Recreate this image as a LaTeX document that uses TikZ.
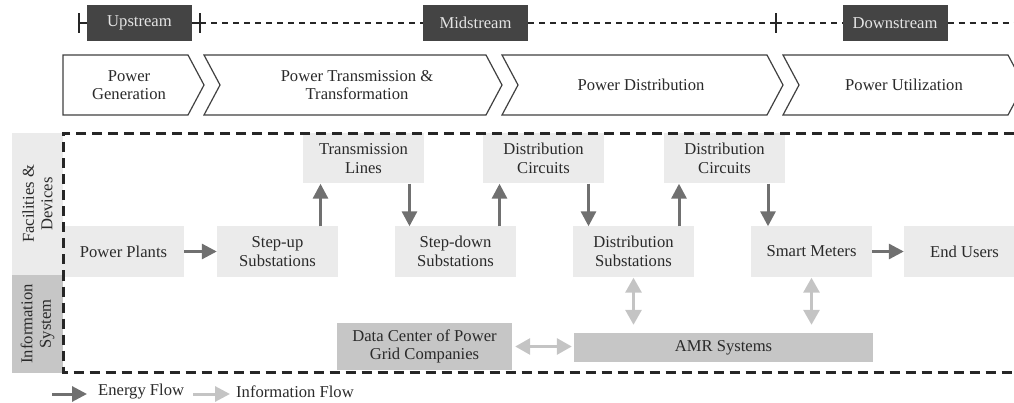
\documentclass[tikz,border=0pt]{standalone}
\usepackage{fontspec}
\setmainfont{Liberation Serif}
\usepackage{tikz}
\usetikzlibrary{calc}
\usetikzlibrary{arrows.meta}
\definecolor{stagegray}{HTML}{444444}
\definecolor{boxgray}{HTML}{EBEBEB}
\definecolor{sysgray}{HTML}{C6C6C6}
\definecolor{energygray}{HTML}{707070}
\definecolor{infogray}{HTML}{C4C4C4}
\definecolor{textgray}{HTML}{2A2A2A}
\tikzset{
  stage/.style={
    fill=stagegray,text=white!90!black,inner sep=0pt,
    minimum width=105pt,minimum height=36pt,
  },
  phase/.style={text=textgray,align=center,inner sep=0pt},
  chevron/.style={draw=black!75,fill=white,line width=1.2pt},
  facility/.style={
    fill=boxgray,text=textgray,align=center,inner sep=0pt,
    minimum width=121pt,minimum height=50pt,
  },
  infobox/.style={fill=sysgray,text=textgray,align=center,inner sep=0pt},
  layer/.style={text=textgray,align=center,inner sep=0pt,rotate=90,minimum height=51pt},
  energy/.style={draw=energygray,line width=3pt,-{Triangle[length=15pt,width=15pt]}},
  info/.style={
    draw=infogray,line width=3pt,
    {Triangle[length=15pt,width=16pt]}-{Triangle[length=15pt,width=16pt]},
  },
  infokey/.style={draw=infogray,line width=3pt,-{Triangle[length=15pt,width=15pt]}},
  frame/.style={draw=black!85,line width=3pt,dash pattern=on 10pt off 6pt},
  timeline/.style={draw=black!85,line width=1.3pt},
  tick/.style={draw=black!85,line width=2.2pt},
}

\begin{document}
\begin{tikzpicture}[x=1pt,y=-1pt,font=\fontsize{16.6}{18.5}\selectfont]
    \useasboundingbox (0,0) rectangle (1014,403);
    \clip (0,0) rectangle (1014,403);
    % value chain stages
    \node [stage] (up) at (139.5,23) {Upstream};
    \node [stage] (mid) at (475.5,23) {Midstream};
    \node [stage] (down) at (895,23) {Downstream};
    \coordinate (t1) at (79,23);
    \coordinate (t2) at (200,23);
    \coordinate (t3) at (776,23);
    \coordinate (tend) at (1014,23);
    \foreach \t in {t1,t2,t3}
        \draw [tick] ([yshift=-10pt]\t) -- ([yshift=10pt]\t);
    \draw [timeline] (t1) -- (up.west);
    \draw [timeline] (up.east) -- (t2);
    \draw [timeline,dash pattern=on 6pt off 5pt] (t2) -- (mid.west);
    \draw [timeline,dash pattern=on 6pt off 5pt] (mid.east) -- (t3);
    \draw [timeline,dash pattern=on 6pt off 5pt] (t3) -- (down.west);
    \draw [timeline,dash pattern=on 6pt off 5pt] (down.east) -- (tend);
    % phases
    \draw [chevron] (63,55) -- (188,55) -- (204,85) -- (188,115) -- (63,115) -- cycle;
    \foreach \l/\r in {204/486,502/767,783/1008}
        \draw [chevron] (\l,55) -- (\r,55) -- (\r+16,85) -- (\r,115) -- (\l,115) -- (\l+16,85) -- cycle;
    \node [phase] (gen) at (129,85) {Power\\Generation};
    \node [phase] (trans) at (357,85) {Power Transmission \&\\Transformation};
    \node [phase] (dist) at (641,85) {Power Distribution};
    \node [phase] (util) at (904,85) {Power Utilization};
    % layers
    \node [layer,fill=boxgray,minimum width=142pt] (fac) at (37.5,204) {Facilities \&\\Devices};
    \node [layer,fill=sysgray,minimum width=98pt] (sys) at (37.5,324) {Information\\System};
    % facilities and devices
    \node [facility] (plants) at (123.5,251.5) {Power Plants};
    \node [facility] (stepup) at (277.5,251.5) {Step-up\\Substations};
    \node [facility] (lines) at (363.5,158.5) {Transmission\\Lines};
    \node [facility] (stepdown) at (455.5,251.5) {Step-down\\Substations};
    \node [facility] (circa) at (543.5,158.5) {Distribution\\Circuits};
    \node [facility] (dsub) at (633.5,251.5) {Distribution\\Substations};
    \node [facility] (circb) at (724.5,158.5) {Distribution\\Circuits};
    \node [facility] (meters) at (811.5,251.5) {Smart Meters};
    \node [facility] (users) at (964.5,251.5) {End Users};
    % information system
    \node [infobox,minimum width=175pt,minimum height=47pt] (center) at (424.5,346.5) {Data Center of Power\\Grid Companies};
    \node [infobox,minimum width=299pt,minimum height=29pt] (amr) at (723.5,347.5) {AMR Systems};
    % frame
    \draw [frame] (1030,133.5) -- (63,133.5) -- (63,372) -- (1030,372);
    % energy flow
    \draw [energy] (plants.east) -- (stepup.west);
    \draw [energy] (meters.east) -- (users.west);
    \coordinate (ma) at ($(stepup.north east)!.5!(lines.south west)$);
    \coordinate (mb) at ($(lines.south east)!.5!(stepdown.north west)$);
    \coordinate (mc) at ($(stepdown.north east)!.5!(circa.south west)$);
    \coordinate (md) at ($(circa.south east)!.5!(dsub.north west)$);
    \coordinate (me) at ($(dsub.north east)!.5!(circb.south west)$);
    \coordinate (mf) at ($(circb.south east)!.5!(meters.north west)$);
    \draw [energy] (ma |- stepup.north) -- (ma |- lines.south);
    \draw [energy] (mb |- lines.south) -- (mb |- stepdown.north);
    \draw [energy] (mc |- stepdown.north) -- (mc |- circa.south);
    \draw [energy] (md |- circa.south) -- (md |- dsub.north);
    \draw [energy] (me |- dsub.north) -- (me |- circb.south);
    \draw [energy] (mf |- circb.south) -- (mf |- meters.north);
    % information flow
    \draw [info,shorten <=1pt,shorten >=8pt] (dsub.south) -- (dsub.south |- amr.north);
    \draw [info,shorten <=1pt,shorten >=8pt] (meters.south) -- (meters.south |- amr.north);
    \draw [info,shorten <=3pt,shorten >=2pt] (center.east) -- (center.east -| amr.west);
    % legend
    \node [phase,anchor=west] (energytxt) at (98,392) {Energy Flow};
    \node [phase,anchor=west] (infotxt) at (236,392) {Information Flow};
    \coordinate (ekey) at (52,394);
    \coordinate (ikey) at (193,394);
    \draw [energy,shorten >=11pt] (ekey) -- (ekey -| energytxt.west);
    \draw [infokey,shorten >=6pt] (ikey) -- (ikey -| infotxt.west);
\end{tikzpicture}
\end{document}
